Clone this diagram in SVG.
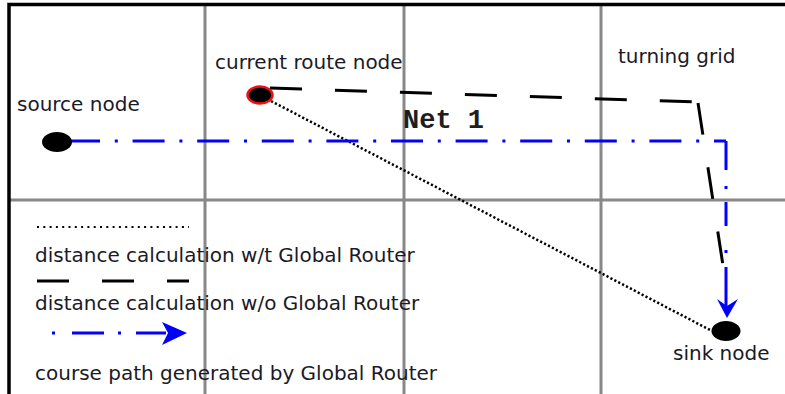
<svg xmlns="http://www.w3.org/2000/svg" width="785" height="394" viewBox="0 0 785 394">
  <style>
    .grid { stroke: #888888; stroke-width: 3; fill: none; }
    .frame { stroke: #000000; stroke-width: 3.5; fill: none; }
    .lbl { font-family: "DejaVu Sans", Verdana, sans-serif; font-size: 20px; fill: #1a1a28; }
    .net { font-family: "Liberation Mono", "Courier New", monospace; font-size: 27px; font-weight: bold; fill: #1e1e1e; }
    .node { fill: #000000; }
    .cur { fill: #000000; stroke: #ee1111; stroke-width: 2.5; }
    .direct { stroke: #000000; stroke-width: 2.5; fill: none; stroke-dasharray: 2.2 2.2; }
    .est { stroke: #000000; stroke-width: 3; fill: none; stroke-dasharray: 32 33; }
    .route { stroke: #0000ff; stroke-width: 3; fill: none; }
    .head { fill: #0000ff; }
  </style>

  <!-- frame and grid -->
  <g id="grid">
    <line class="grid" x1="205" y1="4" x2="205" y2="394"/>
    <line class="grid" x1="404" y1="4" x2="404" y2="394"/>
    <line class="grid" x1="601" y1="4" x2="601" y2="394"/>
    <line class="grid" x1="9" y1="200" x2="785" y2="200"/>
    <path class="frame" d="M9,394 V4.5 H785"/>
  </g>

  <!-- connectors -->
  <g id="connectors">
    <path class="direct" d="M271,101 L712,331"/>
    <path class="est" d="M270,88 L697,102"/>
    <path class="est" d="M698,103 L724,272"/>
    <path class="route" d="M68,141 H726" stroke-dasharray="32 14.8 3 14.8"/>
    <path class="route" d="M726,141 V306" stroke-dasharray="29 16 3 13 24 24 3 14 60"/>
    <path class="head" d="M717,299 L727,306 L738,299 L727,318 Z"/>
  </g>

  <text class="net" x="403" y="128">Net 1</text>

  <g id="source-node">
    <ellipse class="node" cx="57" cy="142" rx="15" ry="10"/>
    <text class="lbl" x="17" y="111">source node</text>
  </g>

  <g id="current-route-node">
    <ellipse class="cur" cx="260" cy="95" rx="12.5" ry="8.5"/>
    <text class="lbl" x="215" y="69">current route node</text>
  </g>

  <g id="sink-node">
    <ellipse class="node" cx="726" cy="331" rx="14.5" ry="10"/>
    <text class="lbl" x="673" y="360">sink node</text>
  </g>

  <g id="turning-grid">
    <text class="lbl" x="618" y="63">turning grid</text>
  </g>

  <!-- legend -->
  <g id="legend">
    <path d="M37,227 H189" stroke="#000000" stroke-width="2.2" stroke-dasharray="2 4.3" fill="none"/>
    <text class="lbl" x="35" y="262">distance calculation w/t Global Router</text>
    <path class="est" d="M37,281 H189"/>
    <text class="lbl" x="35" y="310">distance calculation w/o Global Router</text>
    <path class="route" d="M52,333 H166" stroke-dasharray="3 17 32 14 3 15 60"/>
    <path class="head" d="M162,322 L168,333 L162,345 L187,333 Z"/>
    <text class="lbl" x="35" y="380">course path generated by Global Router</text>
  </g>
</svg>
